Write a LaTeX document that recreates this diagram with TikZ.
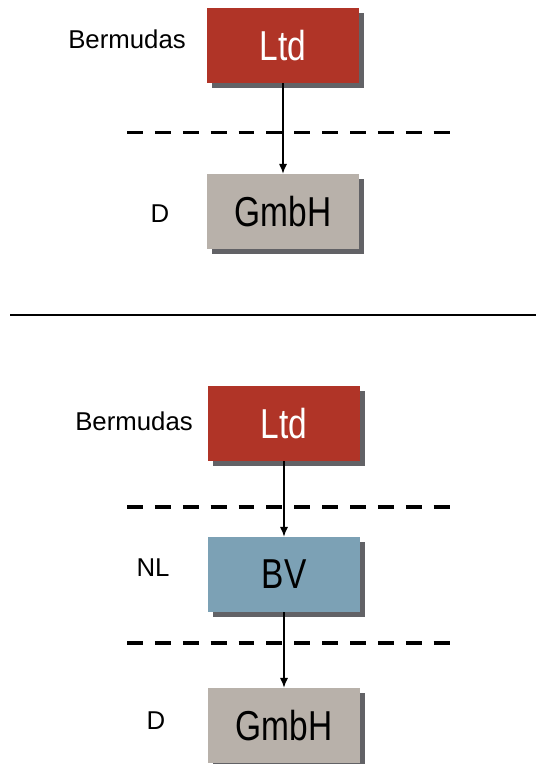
\documentclass[tikz,border=0pt]{standalone}
\usepackage{fontspec}
\setmainfont{Liberation Sans}
\newfontfamily\boxfont[FakeStretch=0.8]{Liberation Sans}
\usepackage{tikz}
\usetikzlibrary{shadows,arrows.meta}

\definecolor{ltdred}{RGB}{176,52,39}
\definecolor{gmbhgray}{RGB}{184,177,170}
\definecolor{bvblue}{RGB}{124,161,181}
\definecolor{shadowgray}{RGB}{98,98,102}

\begin{document}
\begin{tikzpicture}[x=0.03cm,y=-0.03cm]
\tikzset{firm/.style = {shape=rectangle,minimum width=4.56cm,minimum height=2.25cm,
    inner sep=0pt,font=\boxfont\fontsize{35.7}{40}\selectfont,
    drop shadow={shadow xshift=0.15cm,shadow yshift=-0.15cm,opacity=1,fill=shadowgray}}}
\tikzset{country/.style = {font=\fontsize{22}{26}\selectfont,inner sep=0pt}}
\tikzset{border/.style = {line width=2.6pt,dash pattern=on 13.6pt off 10.2pt}}
\tikzset{edge/.style = {->,> = {Latex[length=0.3cm,width=0.25cm]},line width=1.3pt}}
\useasboundingbox (0,0) rectangle (536,764);
% before
\node[firm,fill=ltdred,text=white] (ltd1) at (283,45.5) {Ltd};
\node[firm,fill=gmbhgray] (gmbh1) at (283,211.5) {GmbH};
\node[country] (bm1) at (127,39) {Bermudas};
\node[country] (d1) at (160,214) {D};
\draw[border] (127,132.5) -- (451,132.5);
\draw[edge] (ltd1) to (gmbh1);
% separator
\draw[line width=2.55pt] (10,315) -- (536,315);
% after
\node[firm,fill=ltdred,text=white] (ltd2) at (284,423.5) {Ltd};
\node[firm,fill=bvblue] (bv) at (284,574.5) {BV};
\node[firm,fill=gmbhgray] (gmbh2) at (284,725.5) {GmbH};
\node[country] (bm2) at (134,421) {Bermudas};
\node[country] (nl) at (153,568) {NL};
\node[country] (d2) at (156,721) {D};
\draw[border] (127,507) -- (451,507);
\draw[border] (127,643) -- (451,643);
\draw[edge] (ltd2) to (bv);
\draw[edge] (bv) to (gmbh2);
\end{tikzpicture}
\end{document}
